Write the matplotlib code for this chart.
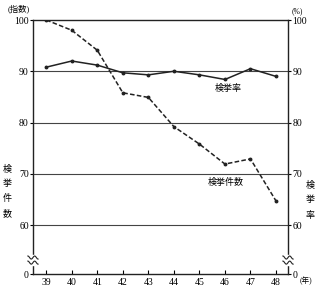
import numpy as np
import matplotlib
matplotlib.use("Agg")
import matplotlib.pyplot as plt

plt.rcParams['font.family'] = ['Liberation Serif', 'Noto Sans CJK JP']

# DATA
years = [39, 40, 41, 42, 43, 44, 45, 46, 47, 48]
arrest_rate = [90.8, 92.0, 91.2, 89.7, 89.3, 90.0, 89.3, 88.4, 90.5, 89.0]
arrest_count = [100.0, 98.0, 94.1, 85.8, 84.9, 79.2, 75.8, 71.9, 72.9, 64.7]
ytick_vals = [60, 70, 80, 90, 100]
grid_vals = [60, 70, 80, 90]

fig = plt.figure(figsize=(3.2, 2.9), dpi=100)
ax = fig.add_axes([0.103, 0.055, 0.797, 0.876])

ax.plot(years, arrest_rate, color='#222222', lw=1.1, marker='o', ms=1.8)
ax.plot(years, arrest_count, color='#222222', lw=1.1, ls=(0, (3, 1.5)), marker='o', ms=1.8)
for g in grid_vals:
    ax.axhline(g, color='#444444', lw=0.8, zorder=0)

ybottom = 50.44
ax.set_xlim(38.48, 48.47)
ax.set_ylim(ybottom, 100)
ax.set_xticks(years)
ax.set_yticks([ybottom] + ytick_vals)
ax.set_yticklabels(['0'] + [str(v) for v in ytick_vals])
ax.tick_params(axis='x', direction='in', length=3, labelsize=7, pad=3)
ax.tick_params(axis='y', direction='out', length=2, labelsize=7, pad=1,
               left=True, right=True, labelleft=True, labelright=True)
for s in ax.spines.values():
    s.set_linewidth(1.0)
    s.set_color('#222222')

# axis break marks
for xa in (0.0, 1.0):
    ax.add_patch(plt.Rectangle((xa - 0.02, 0.035), 0.04, 0.04, transform=ax.transAxes,
                               color='white', clip_on=False, zorder=5))
    t = np.linspace(-0.02, 0.02, 30)
    for off in (0.045, 0.065):
        ax.plot(xa + t, off + 0.006 * np.sin(t / 0.02 * np.pi * 1.5), transform=ax.transAxes,
                color='#222222', lw=0.8, clip_on=False, zorder=6)

ax.text(0.765, 0.73, '検挙率', transform=ax.transAxes, fontsize=6.5, ha='center', va='center')
ax.text(0.755, 0.36, '検挙件数', transform=ax.transAxes, fontsize=6.5, ha='center', va='center')

fig.text(0.025, 0.97, '(指数)', fontsize=6, va='center')
fig.text(0.912, 0.962, '(%)', fontsize=5.5, va='center')
fig.text(0.935, 0.03, '(年)', fontsize=5.5, va='center')
fig.text(0.022, 0.34, '検\n挙\n件\n数', fontsize=6.5, va='center', ha='center', linespacing=1.9)
fig.text(0.968, 0.31, '検\n挙\n率', fontsize=6.5, va='center', ha='center', linespacing=1.9)

fig.savefig('out.png', dpi=100)
